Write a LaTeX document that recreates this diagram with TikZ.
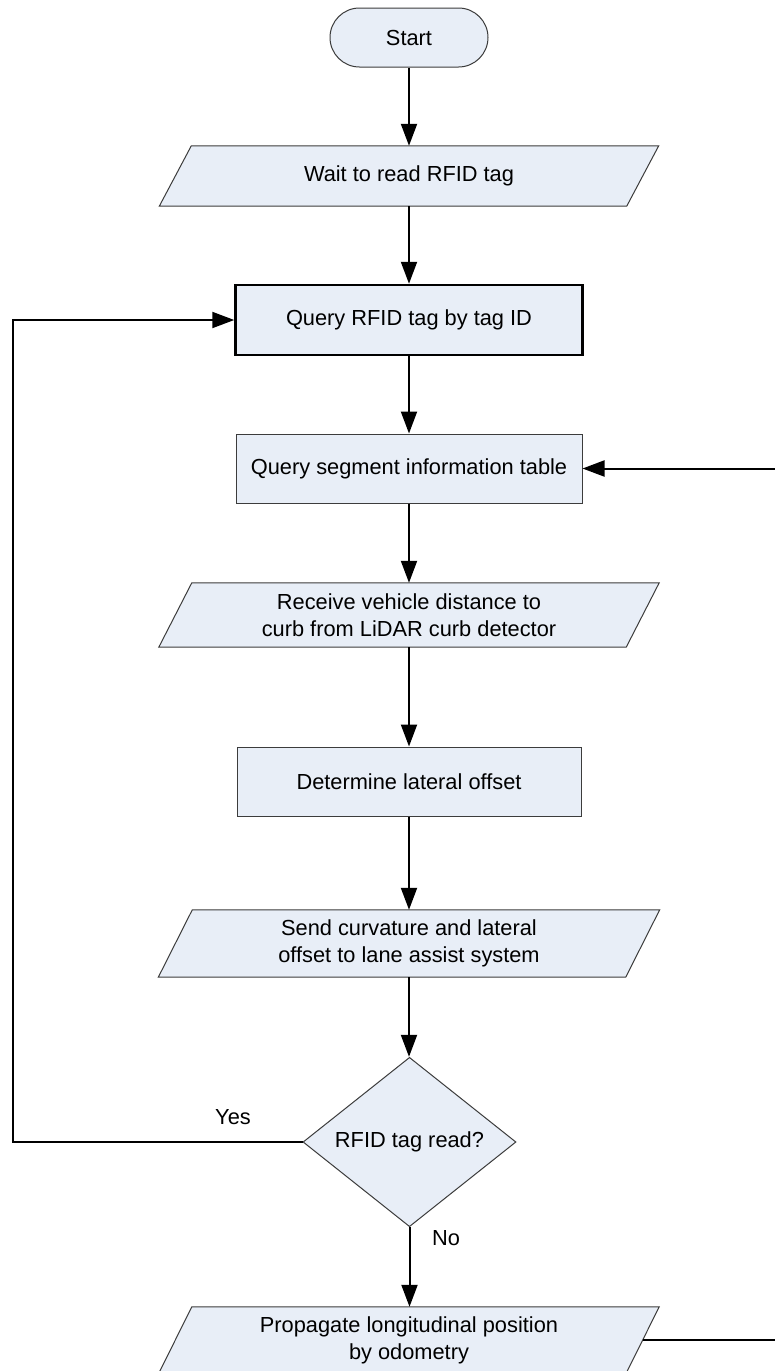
\documentclass[tikz,border=0pt]{standalone}
\usepackage{fontspec}
\setmainfont{Liberation Sans}
\usetikzlibrary{arrows.meta,shapes.geometric,calc,backgrounds}
\definecolor{boxfill}{RGB}{232,238,247}
\definecolor{boxline}{RGB}{60,60,60}
\begin{document}
\begin{tikzpicture}[x=1pt,y=-1pt,
  every node/.style={font=\fontsize{21.8}{27}\selectfont, text=black},
  term/.style={draw=boxline, line width=1pt, fill=boxfill, rounded corners=29.5pt,
    minimum width=158pt, minimum height=59pt, inner sep=0pt},
  proc/.style={draw=boxline, line width=1pt, fill=boxfill,
    minimum width=346pt, minimum height=69pt, inner sep=0pt},
  procbold/.style={proc, draw=black, line width=2.5pt},
  io/.style={minimum width=467pt, inner sep=0pt, align=center},
  iofill/.style={draw=boxline, line width=1pt, fill=boxfill},
  decision/.style={diamond, draw=boxline, line width=1pt, fill=boxfill,
    minimum width=213pt, minimum height=160pt, inner sep=0pt},
  conn/.style={line width=2pt, -{Triangle[length=22pt,width=16pt]}},
  lbl/.style={inner sep=0pt}
]
\useasboundingbox (0,0) rectangle (775,1371);

\node[term] (start) at (409,37.5) {Start};
\node[io, minimum height=60pt] (wait) at (409,176) {Wait to read RFID tag};
\node[procbold, minimum width=347pt, minimum height=70pt] (q1) at (409,320) {Query RFID tag by tag ID};
\node[proc] (q2) at (409,468.5) {Query segment information table};
\node[io, minimum height=64pt] (recv) at (409,615) {Receive vehicle distance to\\curb from LiDAR curb detector};
\node[proc, minimum width=344pt] (det) at (409,781.5) {Determine lateral offset};
\node[io, minimum height=67pt] (send) at (409,943.5) {Send curvature and lateral\\offset to lane assist system};
\node[decision] (dia) at (409.5,1142) {RFID tag read?};
\node[io, minimum height=66pt] (prop) at (409,1340) {Propagate longitudinal position\\by odometry};

\node[lbl] (yes) at (233,1117) {Yes};
\node[lbl] (no) at (446,1238) {No};

\begin{scope}[on background layer]
  \fill[white] (0,0) rectangle (775,1371);
  \foreach \n/\s in {wait/16, recv/16.5, send/17, prop/16.5}
    \filldraw[iofill] ($(\n.north west)+(\s,0)$) -- ($(\n.north east)+(\s,0)$)
      -- ($(\n.south east)-(\s,0)$) -- ($(\n.south west)-(\s,0)$) -- cycle;
\end{scope}

\draw[conn] (start) -- (wait);
\draw[conn] (wait) -- (q1);
\draw[conn] (q1) -- (q2);
\draw[conn] (q2) -- (recv);
\draw[conn] (recv) -- (det);
\draw[conn] (det) -- (send);
\draw[conn] (send.south) -- (send.south |- dia.north);
\draw[conn] (dia.south) -- (dia.south |- prop.north);

\coordinate (lbend) at (13,0);
\coordinate (rbend) at (776.5,0);
\draw[conn] (dia.west) -- (dia.west -| lbend) -- (q1.west -| lbend) -- (q1.west);
\draw[conn] (prop.east) -- (prop.east -| rbend) -- (q2.east -| rbend) -- (q2.east);
\end{tikzpicture}
\end{document}
